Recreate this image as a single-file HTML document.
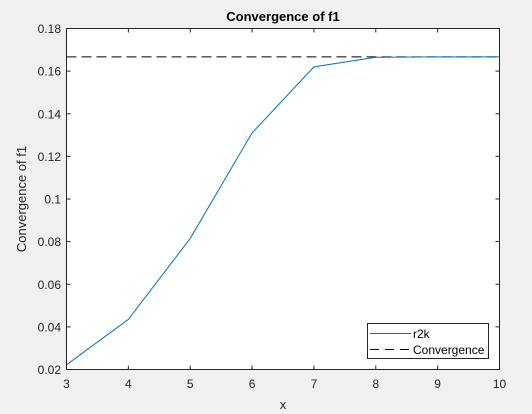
<!DOCTYPE html>
<html><head><meta charset="utf-8"><style>
body{margin:0;background:#f0f0f0;}
svg{display:block;font-family:"Liberation Sans",sans-serif;}
</style></head><body>
<svg width="532" height="414">
<rect x="0" y="0" width="532" height="414" fill="#f0f0f0"/>
<rect x="66.5" y="28.5" width="433" height="341" fill="#fff"/>
<g id="ticks"></g>
<g id="series"></g>
<rect x="66.5" y="28.5" width="433" height="341" fill="none" stroke="#262626" stroke-width="1"/>
<text x="283" y="21" text-anchor="middle" font-size="13" font-weight="bold" fill="#000">Convergence of f1</text>
<text x="283" y="409" text-anchor="middle" font-size="13" fill="#262626">x</text>
<text transform="translate(26,199) rotate(-90)" text-anchor="middle" font-size="13" fill="#262626">Convergence of f1</text>
<g>
<rect x="367.5" y="323.5" width="121" height="35" fill="#fff" stroke="#262626" stroke-width="1"/>
<line x1="370" y1="333.5" x2="411" y2="333.5" stroke="#0072bd" stroke-width="1"/>
<text x="413" y="338" font-size="12" fill="#000">r2k</text>
<line x1="370" y1="349.5" x2="411" y2="349.5" stroke="#000" stroke-width="1" stroke-dasharray="9,6"/>
<text x="413" y="354" font-size="12" fill="#000">Convergence</text>
</g>
</svg>
<script>
const xValues=[3,4,5,6,7,8,9,10];
const r2kValues=[0.0222,0.0435,0.0815,0.131,0.162,0.1665,0.1667,0.1667];
const convergenceValue=0.1667;
const xTicks=[3,4,5,6,7,8,9,10];
const yTicks=[0.02,0.04,0.06,0.08,0.1,0.12,0.14,0.16,0.18];
const yTickLabels=["0.02","0.04","0.06","0.08","0.1","0.12","0.14","0.16","0.18"];
const L=66.5,R=499.5,T=28.5,B=369.5;
const xs=v=>L+(v-3)/7*(R-L);
const ys=v=>B-(v-0.02)/0.16*(B-T);
const NS="http://www.w3.org/2000/svg";
const tg=document.getElementById('ticks'),sg=document.getElementById('series');
function mk(tag,attrs,parent){const e=document.createElementNS(NS,tag);for(const k in attrs)e.setAttribute(k,attrs[k]);parent.appendChild(e);return e;}
xTicks.forEach(v=>{const x=xs(v);
mk('line',{x1:x,y1:B,x2:x,y2:B-4,stroke:'#262626'},tg);
mk('line',{x1:x,y1:T,x2:x,y2:T+4,stroke:'#262626'},tg);
const t=mk('text',{x:x,y:388,'text-anchor':'middle','font-size':12,fill:'#262626'},tg);t.textContent=v;

});
yTicks.forEach((v,i)=>{const y=ys(v);
mk('line',{x1:L,y1:y,x2:L+4,y2:y,stroke:'#262626'},tg);
mk('line',{x1:R,y1:y,x2:R-4,y2:y,stroke:'#262626'},tg);
const t=mk('text',{x:61,y:y+4.5,'text-anchor':'end','font-size':12,fill:'#262626'},tg);t.textContent=yTickLabels[i];

});
const c=mk('line',{x1:L,y1:ys(convergenceValue),x2:R,y2:ys(convergenceValue),stroke:'#000','stroke-dasharray':'10,5'},sg);


const p=mk('polyline',{points:xValues.map((x,i)=>xs(x)+','+ys(r2kValues[i])).join(' '),fill:'none',stroke:'#0072bd','stroke-width':1},sg);


</script>
</body></html>
